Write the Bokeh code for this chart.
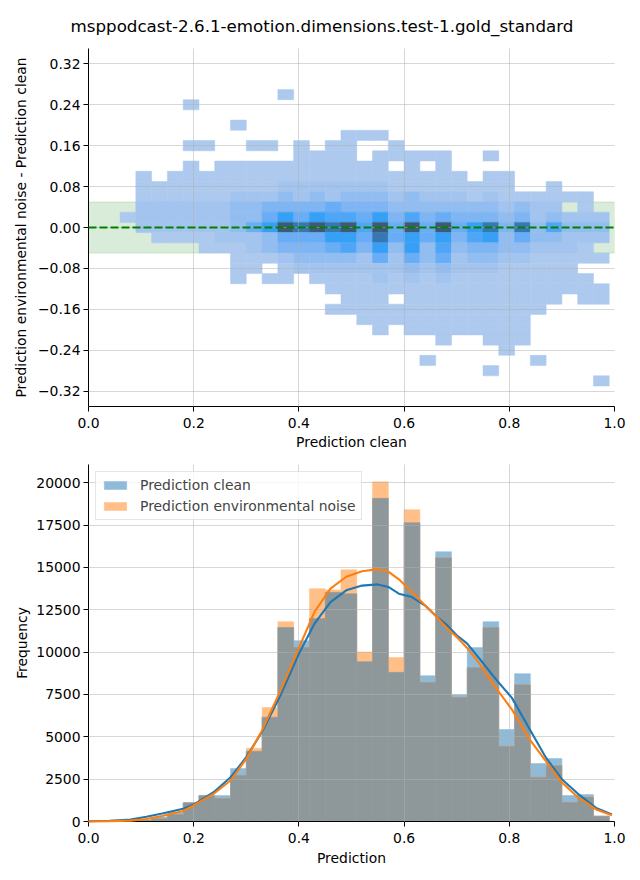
import numpy as np
from bokeh.plotting import figure
from bokeh.layouts import column
from bokeh.models import (Range1d, FixedTicker, CustomJSTickFormatter, BoxAnnotation,
                          Span, Legend, LegendItem)
from bokeh.embed import file_html
from bokeh.resources import INLINE

# ---------------- data ----------------
TITLE = "msppodcast-2.6.1-emotion.dimensions.test-1.gold_standard"

# common prediction bins (left edges), width 0.03
bin_left = [0.00, 0.03, 0.06, 0.09, 0.12, 0.15, 0.18, 0.21, 0.24, 0.27, 0.30,
            0.33, 0.36, 0.39, 0.42, 0.45, 0.48, 0.51, 0.54, 0.57, 0.60, 0.63,
            0.66, 0.69, 0.72, 0.75, 0.78, 0.81, 0.84, 0.87, 0.90, 0.93, 0.96]
BIN_W = 0.03

clean_counts = [10, 20, 40, 100, 260, 550, 1120, 1550, 1530, 3130, 4150, 6160,
                11450, 10680, 11980, 13530, 13450, 9440, 19080, 8810, 17640, 8610,
                15930, 7480, 10270, 11800, 5430, 8730, 3420, 3720, 1530, 1590, 330]
noise_counts = [10, 15, 30, 80, 180, 410, 1100, 1520, 1380, 2730, 4330, 6730,
                11800, 10290, 13750, 13670, 14870, 10010, 20060, 9680, 18410, 8220,
                15580, 7340, 9090, 11450, 4450, 8080, 2620, 3300, 1140, 1440, 310]

kde_x = [0.00, 0.04, 0.08, 0.11, 0.14, 0.18, 0.20, 0.24, 0.27, 0.30, 0.33, 0.365,
         0.40, 0.43, 0.46, 0.49, 0.52, 0.55, 0.57, 0.59, 0.615, 0.64, 0.66, 0.68,
         0.70, 0.72, 0.745, 0.775, 0.805, 0.835, 0.87, 0.90, 0.93, 0.965, 0.995]
kde_clean = [20, 40, 110, 280, 470, 750, 1000, 1780, 2610, 3800, 5300, 7450,
             9900, 11700, 12950, 13650, 13930, 14000, 13850, 13450, 13250, 12750,
             12150, 11650, 11000, 10500, 9550, 8380, 7300, 5650, 3750, 2500, 1650,
             800, 420]
kde_noise = [10, 20, 50, 150, 330, 620, 950, 1680, 2420, 3700, 5380, 7730,
             10250, 12400, 13750, 14450, 14780, 14900, 14760, 14300, 13550, 12750,
             12150, 11450, 10900, 10250, 9250, 7880, 6610, 5000, 3550, 2300, 1450,
             710, 370]

# 2-D histogram of (prediction clean, noise - clean): density level per cell
# rows from top (0.26) to bottom (-0.30); 33 columns matching bin_left
diff_row_centers = [0.26, 0.24, 0.22, 0.20, 0.18, 0.16, 0.14, 0.12, 0.10, 0.08,
                    0.06, 0.04, 0.02, 0.00, -0.02, -0.04, -0.06, -0.08, -0.10,
                    -0.12, -0.14, -0.16, -0.18, -0.20, -0.22, -0.24, -0.26,
                    -0.28, -0.30]
ROW_H = 0.02
density_rows = [
    "000 000 000 000 100 000 000 000 000 000 000",
    "000 000 100 000 000 000 000 000 000 000 000",
    "000 000 000 000 000 000 000 000 000 000 000",
    "000 000 000 100 000 000 000 000 000 000 000",
    "000 000 000 000 000 011 100 000 000 000 000",
    "000 000 110 011 010 110 010 000 000 000 000",
    "000 000 000 000 011 110 111 110 010 000 000",
    "000 000 101 111 111 111 101 010 000 000 000",
    "000 101 111 111 111 111 111 111 011 000 000",
    "000 111 111 111 222 222 211 111 111 001 000",
    "000 111 111 222 323 233 323 222 121 111 110",
    "000 222 222 334 444 544 433 333 332 322 010",
    "001 222 222 335 757 665 746 454 443 423 222",
    "000 222 222 357 989 896 959 595 784 836 333",
    "000 011 112 223 555 775 857 574 673 533 222",
    "000 000 011 123 444 564 737 363 443 322 210",
    "000 000 000 111 233 332 525 352 332 211 111",
    "000 000 000 110 122 222 223 232 221 111 100",
    "000 000 000 101 101 111 212 121 111 111 110",
    "000 000 000 000 000 111 111 111 111 111 111",
    "000 000 000 000 000 011 101 111 111 111 011",
    "000 000 000 000 000 111 111 111 111 110 000",
    "000 000 000 000 000 001 111 111 111 100 000",
    "000 000 000 000 000 000 101 111 111 100 000",
    "000 000 000 000 000 000 000 010 011 100 000",
    "000 000 000 000 000 000 000 000 001 000 000",
    "000 000 000 000 000 000 000 100 000 010 000",
    "000 000 000 000 000 000 000 000 010 000 000",
    "000 000 000 000 000 000 000 000 000 000 001",
]

x_ticks = [0.0, 0.2, 0.4, 0.6, 0.8, 1.0]
diff_ticks = [-0.32, -0.24, -0.16, -0.08, 0.0, 0.08, 0.16, 0.24, 0.32]
freq_ticks = [0, 2500, 5000, 7500, 10000, 12500, 15000, 17500, 20000]
BAND = 0.05

# ---------------- styles ----------------
FONT = "DejaVu Sans"
FS = "13.9px"
LEVEL_COLORS = ["#adc9ee", "#a2c4ef", "#92bdf1", "#7fb5f3", "#68adf5",
                "#4fa6f7", "#36a0f6", "#3778b4", "#3e5a78"]
BLUE_LIGHT = "#8fbbd9"
ORANGE_LIGHT = "#ffbf86"
OVERLAP = "#8e989b"


def style(p, xlabel, ylabel, yfmt, yticks, ylabel_standoff, xlabel_standoff):
    p.outline_line_color = None
    p.background_fill_color = "white"
    p.border_fill_color = "white"
    p.xaxis.ticker = FixedTicker(ticks=x_ticks)
    p.yaxis.ticker = FixedTicker(ticks=yticks)
    p.xgrid.ticker = FixedTicker(ticks=x_ticks)
    p.ygrid.ticker = FixedTicker(ticks=yticks)
    p.xaxis.formatter = CustomJSTickFormatter(code="return tick.toFixed(1);")
    p.yaxis.formatter = CustomJSTickFormatter(code=yfmt)
    p.xaxis.axis_label = xlabel
    p.yaxis.axis_label = ylabel
    for ax in (p.xaxis[0], p.yaxis[0]):
        ax.axis_line_color = "black"
        ax.axis_line_width = 1
        ax.major_tick_line_color = "black"
        ax.major_tick_line_width = 1
        ax.major_tick_in = 0
        ax.major_tick_out = 5
        ax.minor_tick_line_color = None
        ax.major_label_text_font = FONT
        ax.major_label_text_font_size = FS
        ax.major_label_text_color = "black"
        ax.axis_label_text_font = FONT
        ax.axis_label_text_font_size = FS
        ax.axis_label_text_font_style = "normal"
        ax.axis_label_text_color = "black"
    p.xaxis.major_label_standoff = 6
    p.yaxis.major_label_standoff = 3
    p.xaxis.axis_label_standoff = xlabel_standoff
    p.yaxis.axis_label_standoff = ylabel_standoff
    for g in (p.xgrid[0], p.ygrid[0]):
        g.grid_line_color = "#b0b0b0"
        g.grid_line_alpha = 0.5
        g.grid_line_width = 1
        g.level = "guide"


# ---------------- top: 2-D histogram ----------------
p_top = figure(frame_width=526, frame_height=358, x_range=Range1d(0, 1),
               y_range=Range1d(-0.35, 0.35), output_backend="svg",
               toolbar_location=None, min_border_left=88, min_border_right=26,
               min_border_top=48, min_border_bottom=49, title=TITLE)
p_top.title.align = "left"
p_top.title.offset = -18
p_top.title.standoff = 25
p_top.title.text_font = FONT
p_top.title.text_font_size = "16.7px"
p_top.title.text_font_style = "normal"
p_top.title.text_color = "black"

band = BoxAnnotation(bottom=-BAND, top=BAND, fill_color="green", fill_alpha=0.15,
                     line_color="green", line_alpha=0.15, line_width=1, level="underlay")
p_top.add_layout(band)

cl, cr, cb, ct, cc = [], [], [], [], []
for yc, row in zip(diff_row_centers, density_rows):
    digits = row.replace(" ", "")
    for k, ch in enumerate(digits):
        lv = int(ch)
        if lv > 0:
            cl.append(bin_left[k])
            cr.append(bin_left[k] + BIN_W)
            cb.append(yc - ROW_H / 2)
            ct.append(yc + ROW_H / 2)
            cc.append(LEVEL_COLORS[lv - 1])
p_top.quad(left=cl, right=cr, bottom=cb, top=ct, fill_color=cc, line_color=cc,
           line_width=0.5)

p_top.add_layout(Span(location=0, dimension="width", line_color="green",
                      line_dash="8 3", line_width=2))

style(p_top, "Prediction clean", "Prediction environmental noise - Prediction clean",
      "return (tick < -1e-9 ? '\u2212' : '') + Math.abs(tick).toFixed(2);",
      diff_ticks, 6, 3)

# ---------------- bottom: histograms + KDE ----------------
p_bot = figure(frame_width=526, frame_height=357, x_range=Range1d(0, 1),
               y_range=Range1d(0, 21080), output_backend="svg",
               toolbar_location=None, min_border_left=88, min_border_right=26,
               min_border_top=9, min_border_bottom=59)

lefts = np.array(bin_left)
rights = lefts + BIN_W
clean = np.array(clean_counts)
noise = np.array(noise_counts)
r_clean = p_bot.quad(left=lefts, right=rights, bottom=0, top=clean,
                     fill_color=BLUE_LIGHT, line_color=BLUE_LIGHT, line_width=0.5)
r_noise = p_bot.quad(left=lefts, right=rights, bottom=0, top=noise,
                     fill_color=ORANGE_LIGHT, line_color=ORANGE_LIGHT, line_width=0.5)
p_bot.quad(left=lefts, right=rights, bottom=0, top=np.minimum(clean, noise),
           fill_color=OVERLAP, line_color=OVERLAP, line_width=0.5)

l1 = p_bot.line(kde_x, kde_clean, line_color="#1f77b4", line_width=2.1)
l2 = p_bot.line(kde_x, kde_noise, line_color="#ff7f0e", line_width=2.1)
l1.level = "annotation"
l2.level = "annotation"

legend = Legend(items=[LegendItem(label="Prediction clean", renderers=[r_clean]),
                       LegendItem(label="Prediction environmental noise", renderers=[r_noise])],
                location="top_left")
legend.margin = 7
legend.padding = 5
legend.spacing = 5
legend.glyph_width = 28
legend.glyph_height = 10
legend.label_height = 14
legend.label_standoff = 11
legend.label_text_font = FONT
legend.label_text_font_size = FS
legend.border_line_color = "#cccccc"
legend.border_line_width = 1
legend.background_fill_color = "white"
legend.background_fill_alpha = 0.8
p_bot.add_layout(legend)

style(p_bot, "Prediction", "Frequency", "return tick.toFixed(0);", freq_ticks, 3, 4)

layout = column(p_top, p_bot, spacing=0)
open("out.html", "w").write(file_html(layout, INLINE))
